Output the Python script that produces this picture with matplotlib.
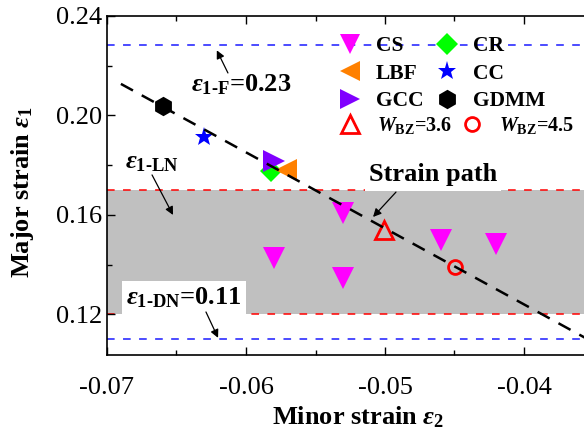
import matplotlib
matplotlib.use("Agg")
import matplotlib.pyplot as plt
from matplotlib.ticker import MultipleLocator, FormatStrFormatter
from matplotlib.lines import Line2D

plt.rcParams['font.family'] = ['Liberation Serif', 'DejaVu Serif']
plt.rcParams['mathtext.fontset'] = 'custom'
plt.rcParams['mathtext.rm'] = 'Liberation Serif:bold'
plt.rcParams['mathtext.bf'] = 'Liberation Serif:bold'
plt.rcParams['mathtext.it'] = 'Liberation Serif:italic:bold'
plt.rcParams['axes.unicode_minus'] = False

# ---- data ----
cs_x = [-0.053, -0.058, -0.053, -0.046, -0.042]
cs_y = [0.1608, 0.1427, 0.1347, 0.1500, 0.1483]
cr_x, cr_y = [-0.0582], [0.1775]
lbf_x, lbf_y = [-0.0571], [0.1781]
cc_x, cc_y = [-0.0630], [0.1914]
gcc_x, gcc_y = [-0.0580], [0.1815]
gdmm_x, gdmm_y = [-0.0660], [0.2038]
w36_x, w36_y = [-0.0501], [0.1540]
w45_x, w45_y = [-0.0450], [0.1390]
path_x = [-0.0690, -0.0356]
path_y = [0.2127, 0.1106]
eps_F = 0.2285
eps_DN = 0.110
band_lo, band_hi = 0.120, 0.170

fig = plt.figure(figsize=(5.84, 4.32), dpi=100)
ax = fig.add_axes([107/584, 1-355/432, (593.5-107)/584, (355-16)/432])
ax.set_xlim(-0.07, -0.035)
ax.set_ylim(0.1037, 0.24)

ax.axhspan(band_lo, band_hi, color='#c0c0c0', lw=0, zorder=0)
for yv, c in [(eps_F, '#1a1aff'), (eps_DN, '#1a1aff'), (band_hi, '#ff0000'), (band_lo, '#ff0000')]:
    ax.axhline(yv, color=c, lw=1.1, ls=(0, (5, 5.5)), zorder=1)

ax.plot(cs_x, cs_y, 'v', color='#ff00ff', ms=16, mew=0, zorder=3)
ax.plot(cr_x, cr_y, 'D', color='#00ff00', ms=11, mew=0, zorder=3)
ax.plot(lbf_x, lbf_y, '<', color='#ff8000', ms=16, mew=0, zorder=3)
ax.plot(gcc_x, gcc_y, '>', color='#8000ff', ms=16, mew=0, zorder=4)
ax.plot(cc_x, cc_y, '*', color='#0000ff', ms=14, mew=0, zorder=3)
ax.plot(gdmm_x, gdmm_y, 'h', color='black', ms=14, mew=0, zorder=3)
ax.plot(w36_x, w36_y, '^', color='#ff0000', ms=13, mew=2, mfc='none', zorder=3)
ax.plot(w45_x, w45_y, 'o', color='#ff0000', ms=10, mew=2, mfc='none', zorder=3)

ax.plot(path_x, path_y, color='black', lw=1.8, ls=(0, (5.5, 4)), zorder=5)

tfont = dict(fontsize=19, fontweight='bold')
ax.text(-0.06036, 0.2123, r'$\varepsilon_{\text{1-F}}$=0.23', ha='center', va='center', **tfont, zorder=6)
ax.text(-0.06676, 0.1809, r'$\varepsilon_{\text{1-LN}}$', ha='center', va='center', **tfont, zorder=6)
ax.text(-0.04655, 0.1761, 'Strain path', ha='center', va='center', **tfont, zorder=6,
        bbox=dict(facecolor='white', edgecolor='none', pad=3))
ax.text(-0.06446, 0.1266, r'$\varepsilon_{\text{1-DN}}$=0.11', ha='center', va='center', **tfont, zorder=6,
        bbox=dict(facecolor='white', edgecolor='none', pad=3.5))

arrows = [((-0.0613, 0.2171), (-0.0621, 0.2262)),
          ((-0.06676, 0.1761), (-0.06525, 0.1600)),
          ((-0.04921, 0.1692), (-0.05086, 0.1592)),
          ((-0.06288, 0.1210), (-0.06201, 0.1106))]
for tail, head in arrows:
    ax.annotate('', xy=head, xytext=tail,
                arrowprops=dict(arrowstyle='-|>', color='black', lw=0.9,
                                mutation_scale=12, shrinkA=0, shrinkB=0), zorder=6)

ax.xaxis.set_major_locator(MultipleLocator(0.01))
ax.xaxis.set_minor_locator(MultipleLocator(0.005))
ax.yaxis.set_major_locator(MultipleLocator(0.04))
ax.yaxis.set_minor_locator(MultipleLocator(0.02))
ax.xaxis.set_major_formatter(FormatStrFormatter('%.2f'))
ax.yaxis.set_major_formatter(FormatStrFormatter('%.2f'))
ax.tick_params(which='both', direction='in', top=True, right=True, labelsize=19, width=1.0)
ax.tick_params(which='major', length=6)
ax.tick_params(which='minor', length=3.5)
ax.tick_params(axis='x', pad=16)
for s in ax.spines.values():
    s.set_linewidth(1.2)

ax.set_xlabel(r'Minor strain $\varepsilon_2$', fontsize=19, fontweight='bold')
ax.set_ylabel(r'Major strain $\varepsilon_1$', fontsize=19, fontweight='bold')
ax.xaxis.set_label_coords((358.5-107)/486.5, -(404-355)/339)
ax.yaxis.set_label_coords(-(107-36)/486.5, 1-(192-16)/339)

lprop = {'family': 'Liberation Serif', 'weight': 'bold', 'size': 15.5}
h1 = [
    Line2D([], [], ls='none', marker='v', color='#ff00ff', ms=15, mew=0),
    Line2D([], [], ls='none', marker='<', color='#ff8000', ms=15, mew=0),
    Line2D([], [], ls='none', marker='>', color='#8000ff', ms=15, mew=0),
    Line2D([], [], ls='none', marker='D', color='#00ff00', ms=11, mew=0),
    Line2D([], [], ls='none', marker='*', color='#0000ff', ms=14, mew=0),
    Line2D([], [], ls='none', marker='h', color='black', ms=14, mew=0),
]
l1 = ['CS', 'LBF', 'GCC', 'CR', 'CC', 'GDMM']
leg1 = ax.legend(h1, l1, ncol=2, frameon=False, loc='upper left',
                 bbox_to_anchor=(337/584, 1-36/432), bbox_transform=fig.transFigure,
                 prop=lprop, handlelength=1.2, handletextpad=0.6, columnspacing=0.5,
                 labelspacing=0.35, borderaxespad=0, borderpad=0)
ax.add_artist(leg1)
h2 = [
    Line2D([], [], ls='none', marker='^', color='#ff0000', ms=13, mew=2, mfc='none'),
    Line2D([], [], ls='none', marker='o', color='#ff0000', ms=10, mew=2, mfc='none'),
]
l2 = [r'$W_{\text{BZ}}$=3.6', r'$W_{\text{BZ}}$=4.5']
lprop2 = dict(lprop, size=14.5)
ax.legend(h2, l2, ncol=2, frameon=False, loc='upper left',
          bbox_to_anchor=(337/584, 1-115/432), bbox_transform=fig.transFigure,
          prop=lprop2, handlelength=1.3, handletextpad=0.7, columnspacing=0.3,
          borderaxespad=0, borderpad=0)

fig.savefig('out.png', dpi=100)
